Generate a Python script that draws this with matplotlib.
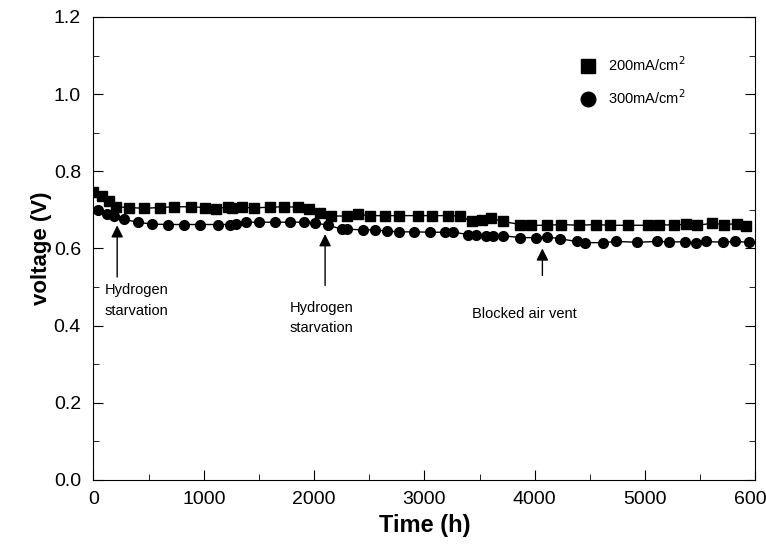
import matplotlib.pyplot as plt
from matplotlib.ticker import MultipleLocator

plt.rcParams['font.family'] = ['Liberation Sans', 'DejaVu Sans']

# 200 mA/cm2 (squares)
t_200 = [0, 80, 140, 200, 320, 460, 600, 730, 880, 1010, 1110, 1220, 1260,
         1350, 1460, 1600, 1730, 1850, 1950, 2050, 2150, 2300, 2400, 2510,
         2640, 2770, 2940, 3070, 3210, 3320, 3430, 3520, 3600, 3710, 3870,
         3970, 4110, 4240, 4400, 4560, 4680, 4850, 5030, 5130, 5260, 5370,
         5470, 5610, 5720, 5830, 5920]
v_200 = [0.745, 0.736, 0.722, 0.708, 0.706, 0.704, 0.706, 0.708, 0.708,
         0.706, 0.703, 0.707, 0.705, 0.707, 0.705, 0.707, 0.708, 0.707,
         0.702, 0.692, 0.684, 0.684, 0.688, 0.685, 0.685, 0.685, 0.685,
         0.685, 0.685, 0.684, 0.670, 0.673, 0.680, 0.670, 0.662, 0.660,
         0.660, 0.662, 0.660, 0.662, 0.660, 0.660, 0.660, 0.662, 0.660,
         0.663, 0.660, 0.665, 0.662, 0.664, 0.658]

# 300 mA/cm2 (circles)
t_300 = [40, 120, 190, 280, 400, 530, 680, 820, 970, 1130, 1240, 1290, 1380,
         1500, 1650, 1780, 1910, 2010, 2130, 2250, 2300, 2440, 2550, 2660,
         2770, 2910, 3050, 3190, 3260, 3400, 3470, 3560, 3620, 3710, 3870,
         4010, 4110, 4230, 4380, 4460, 4620, 4740, 4930, 5110, 5220, 5360,
         5460, 5550, 5710, 5820, 5940]
v_300 = [0.700, 0.690, 0.685, 0.675, 0.668, 0.663, 0.662, 0.662, 0.662,
         0.662, 0.662, 0.663, 0.668, 0.668, 0.668, 0.668, 0.668, 0.666,
         0.660, 0.650, 0.650, 0.648, 0.648, 0.645, 0.643, 0.643, 0.642,
         0.642, 0.642, 0.636, 0.636, 0.633, 0.632, 0.633, 0.628, 0.628,
         0.630, 0.625, 0.618, 0.615, 0.615, 0.618, 0.616, 0.618, 0.617,
         0.617, 0.615, 0.618, 0.616, 0.618, 0.616]

# annotations: text, text position, arrow tail, arrow head
notes = [('Hydrogen\nstarvation', (100, 0.465), (215, 0.526), (215, 0.66)),
         ('Hydrogen\nstarvation', (2070, 0.42), (2100, 0.504), (2100, 0.637)),
         ('Blocked air vent', (3910, 0.43), (4070, 0.53), (4070, 0.600))]

fig = plt.figure(figsize=(7.66, 5.46), dpi=100)
ax = fig.add_axes([0.122, 0.121, 0.864, 0.848])

ax.plot(t_200, v_200, color='black', lw=1, marker='s', ms=6.8,
        label='200mA/cm$^2$')
ax.plot(t_300, v_300, color='black', lw=1, marker='o', ms=7,
        label='300mA/cm$^2$')

for i, (txt, tpos, tail, head) in enumerate(notes):
    ax.annotate('', xy=head, xytext=tail,
                arrowprops=dict(arrowstyle='-|>', color='black', lw=1,
                                mutation_scale=18, shrinkA=0, shrinkB=0))
    ha = 'left' if i == 0 else 'center'
    ax.text(tpos[0], tpos[1], txt, fontsize=10.5, ha=ha, va='center',
            linespacing=1.6)

ax.set_xlim(0, 6000)
ax.set_ylim(0, 1.2)
ax.xaxis.set_major_locator(MultipleLocator(1000))
ax.xaxis.set_minor_locator(MultipleLocator(500))
ax.yaxis.set_major_locator(MultipleLocator(0.2))
ax.yaxis.set_minor_locator(MultipleLocator(0.1))
ax.set_yticklabels(['%.1f' % v for v in ax.get_yticks()])
ax.tick_params(which='both', direction='in', right=True, labelsize=14)
ax.tick_params(which='major', length=7)
ax.tick_params(which='minor', length=4)
ax.tick_params(axis='x', pad=8)
ax.tick_params(axis='y', pad=9)

ax.set_xlabel('Time (h)', fontsize=17, fontweight='bold',
              family=['Liberation Sans Narrow', 'Liberation Sans'])
ax.set_ylabel('voltage (V)', fontsize=16, fontweight='bold', labelpad=1)

ax.legend(loc='upper right', bbox_to_anchor=(0.915, 0.945), frameon=False,
          fontsize=10.5, handlelength=1.2, markerscale=1.5, labelspacing=1.0)
for h in ax.get_legend().get_lines():
    h.set_linestyle('none')

fig.savefig('out.png', dpi=100)
